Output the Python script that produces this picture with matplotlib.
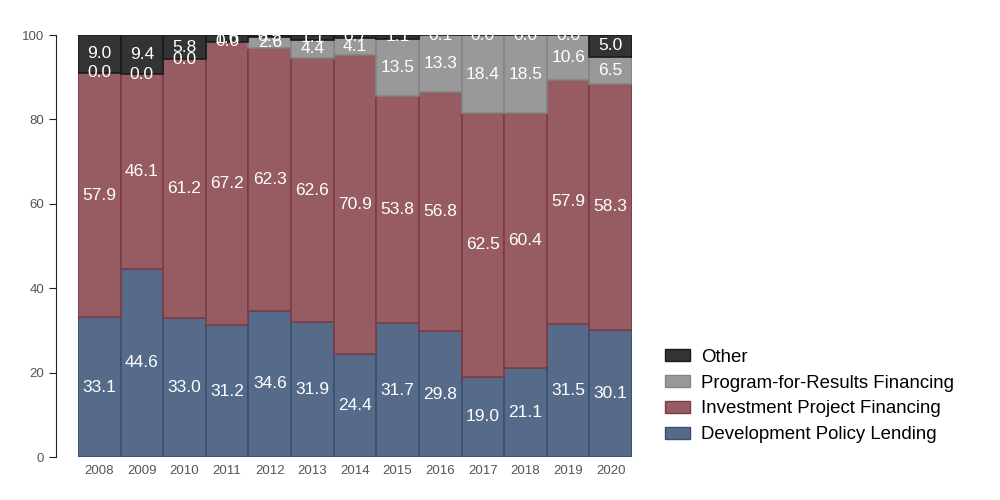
import numpy as np
import matplotlib
matplotlib.use("Agg")
import matplotlib.pyplot as plt
from matplotlib.patches import Patch

plt.rcParams['font.family'] = ['Liberation Sans', 'DejaVu Sans']

years = ['2008', '2009', '2010', '2011', '2012', '2013', '2014',
         '2015', '2016', '2017', '2018', '2019', '2020']
dpl = [33.1, 44.6, 33.0, 31.2, 34.6, 31.9, 24.4, 31.7, 29.8, 19.0, 21.1, 31.5, 30.1]
ipf = [57.9, 46.1, 61.2, 67.2, 62.3, 62.6, 70.9, 53.8, 56.8, 62.5, 60.4, 57.9, 58.3]
pforr = [0.0, 0.0, 0.0, 0.0, 2.6, 4.4, 4.1, 13.5, 13.3, 18.4, 18.5, 10.6, 6.5]
other = [9.0, 9.4, 5.8, 1.6, 0.5, 1.1, 0.7, 1.1, 0.1, 0.0, 0.0, 0.0, 5.0]

series = [
    ('Development Policy Lending', dpl, '#566b8a', '#3b4f6e'),
    ('Investment Project Financing', ipf, '#975c62', '#7d3c45'),
    ('Program-for-Results Financing', pforr, '#999999', '#858585'),
    ('Other', other, '#333333', '#1a1a1a'),
]

fig = plt.figure(figsize=(10, 5), dpi=100)
ax = fig.add_axes([0.078, 0.086, 0.554, 0.844])

x = np.arange(len(years))
bottom = np.zeros(len(years))
for name, vals, col, edge in series:
    vals = np.array(vals)
    ax.bar(x, vals, width=1.0, bottom=bottom, color=col, edgecolor=edge,
           linewidth=1.2)
    for xi, b, v in zip(x, bottom, vals):
        ax.text(xi, b + v / 2, '%.1f' % v, ha='center', va='center',
                color='white', fontsize=12.5, clip_on=True)
    bottom = bottom + vals

ax.set_xlim(-0.5, len(years) - 0.5)
ax.set_ylim(0, 100)
ax.set_xticks(x)
ax.set_xticklabels(years)
ax.set_yticks([0, 20, 40, 60, 80, 100])

for s in ['top', 'right', 'bottom']:
    ax.spines[s].set_visible(False)
ax.spines['left'].set_position(('outward', 16))
ax.spines['left'].set_color('#222222')
ax.tick_params(axis='x', length=0, labelsize=9.5, labelcolor='#555555', pad=6)
ax.tick_params(axis='y', length=5, labelsize=9.5, labelcolor='#555555',
               color='#222222')

handles = [Patch(facecolor=col, edgecolor=edge, label=name)
           for name, vals, col, edge in series][::-1]
fig.legend(handles=handles, loc='center left', bbox_to_anchor=(0.665, 0.208),
           frameon=False, fontsize=13.4, handlelength=1.35, handleheight=0.6,
           labelspacing=0.48, handletextpad=0.6, borderpad=0,
           borderaxespad=0)

fig.savefig('out.png', dpi=100)
